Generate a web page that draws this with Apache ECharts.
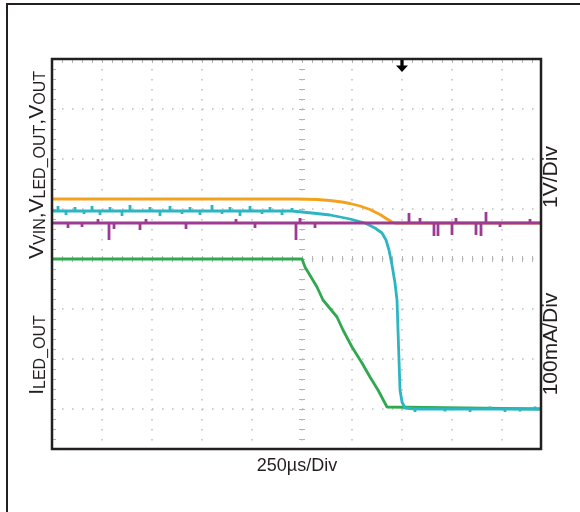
<!DOCTYPE html>
<html>
<head>
<meta charset="utf-8">
<script src="https://cdn.jsdelivr.net/npm/echarts@6/dist/echarts.min.js"></script>
<style>
  html, body { margin: 0; padding: 0; background: #fff; }
  #chart { width: 580px; height: 512px; }
</style>
</head>
<body>
<div id="chart"></div>
<script>
// scope traces: x and y in divisions from the screen centre, y positive up

// orange (V_VIN)
const orangeLevel = 1.2;
const orangeSpikes = [[-4.48, 1.24], [-3.88, 1.24], [-3.08, 1.24], [-2.7, 1.24], [-1.84, 1.24], [-1.6, 1.24], [-0.8, 1.24]];
const orangeEdge = [[-0.1, 1.2], [0.3, 1.19], [0.56, 1.17], [0.8, 1.14], [0.96, 1.11], [1.16, 1.06], [1.36, 0.99],
  [1.56, 0.89], [1.7, 0.8], [1.8, 0.74], [1.86, 0.72], [4.78, 0.72]];

// cyan (V_LED_OUT)
const cyanLevel = 0.96;
const cyanSpikes = [[-4.88, 1.06], [-4.72, 0.88], [-4.54, 1.04], [-4.36, 0.9], [-4.2, 1.06], [-4.04, 0.88], [-3.84, 1.04],
  [-3.6, 0.86], [-3.44, 1.08], [-3.24, 0.92], [-3.04, 1.04], [-2.84, 0.86], [-2.64, 1.06], [-2.4, 0.9], [-2.24, 1.04],
  [-2.04, 0.88], [-1.8, 1.08], [-1.6, 0.9], [-1.44, 1.04], [-1.24, 0.86], [-1.04, 1.06], [-0.8, 0.9], [-0.64, 1.04],
  [-0.4, 0.88], [-0.2, 1.02]];
const cyanEdge = [[-0.1, 0.95], [0.2, 0.92], [0.56, 0.88], [0.96, 0.8], [1.26, 0.72], [1.46, 0.62], [1.6, 0.52],
  [1.68, 0.38], [1.74, 0.18], [1.8, -0.12], [1.86, -0.48], [1.9, -0.82], [1.92, -1.42], [1.94, -2.02], [1.96, -2.62],
  [2.0, -2.86], [2.06, -2.98]];
const cyanLow = -3.0;
const cyanLowSpikes = [[2.26, -3.06], [2.56, -2.96], [2.86, -3.05], [3.36, -3.06], [3.76, -2.95], [4.06, -3.06],
  [4.36, -3.05], [4.66, -2.95]];

// magenta (V_OUT)
const magentaLevel = 0.72;
const magentaSpikes = [[-4.68, 0.62], [-4.4, 0.64], [-4.08, 0.8], [-3.86, 0.38], [-3.76, 0.6], [-3.24, 0.58], [-3.12, 0.8],
  [-2.32, 0.6], [-1.32, 0.8], [-0.94, 0.62], [-0.12, 0.38], [-0.04, 0.82], [0.26, 0.62], [2.14, 0.92], [2.36, 0.82],
  [2.64, 0.46], [2.72, 0.46], [3.0, 0.48], [3.08, 0.82], [3.48, 0.48], [3.58, 0.46], [3.68, 0.94], [3.96, 0.64],
  [4.56, 0.8]];

// green (I_LED_OUT)
const greenLevel = 0.0;
const greenSpikes = [[-4.84, 0.04], [-4.44, -0.04], [-4.04, 0.04], [-3.44, -0.04], [-2.84, 0.04], [-2.24, -0.04],
  [-1.64, 0.04], [-1.04, -0.04], [-0.44, 0.04]];
const greenEdge = [[0.0, 0.0], [0.06, -0.16], [0.3, -0.56], [0.42, -0.82], [0.7, -1.16], [0.82, -1.42], [1.0, -1.76],
  [1.2, -2.08], [1.36, -2.36], [1.52, -2.62], [1.7, -2.96], [1.74, -3.0], [4.78, -3.0]];

const triggerPos = 2;

// flat segment with single-sample glitches
function flat(level, spikes, x0) {
  const pts = [[x0, level]];
  spikes.forEach(function (s) {
    pts.push([s[0], level], [s[0], s[1]], [s[0], level]);
  });
  return pts;
}

// y axis is inverted so gridlines sit where the scope draws them
function toAxis(pts) {
  return pts.map(function (p) { return [p[0], -p[1]]; });
}

const orangeData = toAxis(flat(orangeLevel, orangeSpikes, -5).concat(orangeEdge));
const cyanData = toAxis(flat(cyanLevel, cyanSpikes, -5).concat(cyanEdge, flat(cyanLow, cyanLowSpikes, 2.1), [[4.78, cyanLow]]));
const magentaData = toAxis(flat(magentaLevel, magentaSpikes, -5).concat([[4.78, magentaLevel]]));
const greenData = toAxis(flat(greenLevel, greenSpikes, -5).concat(greenEdge));

const ink = '#231f20';
const tickColor = '#b4b4b4';
const dotted = { color: '#bdbdbd', width: 1.5, type: [1.5, 8.5] };
const font = 'Liberation Sans, Arial, sans-serif';

function xAx(position, onZero, len, split) {
  return {
    type: 'value', min: -5, max: 4.78, interval: 1, position: position,
    axisLine: { show: false, onZero: onZero, onZeroAxisIndex: 0 },
    axisLabel: { show: false },
    axisTick: { show: true, inside: true, length: len, lineStyle: { color: tickColor } },
    minorTick: { show: true, splitNumber: 5, length: len, lineStyle: { color: tickColor } },
    splitLine: { show: split, lineStyle: dotted }
  };
}
function yAx(position, onZero, len, split) {
  return {
    type: 'value', min: -4, max: 3.8, interval: 1, inverse: true, position: position,
    axisLine: { show: false, onZero: onZero, onZeroAxisIndex: 0 },
    axisLabel: { show: false },
    axisTick: { show: true, inside: true, length: len, lineStyle: { color: tickColor } },
    minorTick: { show: true, splitNumber: 5, length: len, lineStyle: { color: tickColor } },
    splitLine: { show: split, lineStyle: dotted }
  };
}

function trace(name, data, color, z) {
  return {
    name: name, type: 'line', data: data, showSymbol: false, symbol: 'none', z: z,
    lineStyle: { color: color, width: 2.8 }, itemStyle: { color: color }
  };
}

const richSub = {
  m: { fontSize: 21, fontFamily: font, lineHeight: 24, verticalAlign: 'middle', fill: ink },
  s: { fontSize: 16, fontFamily: font, lineHeight: 14, verticalAlign: 'bottom', fill: ink }
};

const chart = echarts.init(document.getElementById('chart'), null, { renderer: 'canvas' });
chart.setOption({
  animation: false,
  backgroundColor: '#fff',
  grid: { left: 52, top: 59, width: 489, height: 390 },
  xAxis: [xAx('top', false, 4, true), xAx('bottom', true, 3, false), xAx('top', true, 3, false)],
  yAxis: [yAx('left', false, 4, true), yAx('left', true, 3, false), yAx('right', true, 3, false)],
  series: [
    Object.assign(trace('I_LED_OUT', greenData, '#2fa84f', 2), {
      markPoint: {
        silent: true,
        symbol: 'path://M4,0 L7,0 L7,7 L11,7 L5.5,13 L0,7 L4,7 Z',
        symbolSize: [12, 14], symbolOffset: [0, 6],
        itemStyle: { color: '#000' }, label: { show: false },
        data: [{ coord: [triggerPos, -4] }]
      }
    }),
    trace('V_VIN', orangeData, '#f4a21e', 3),
    trace('V_LED_OUT', cyanData, '#2cb6c2', 4),
    trace('V_OUT', magentaData, '#9c3b93', 5)
  ],
  graphic: [
    { type: 'rect', z: 100, shape: { x: 7, y: 4, width: 620, height: 620 }, style: { fill: 'none', stroke: ink, lineWidth: 2 } },
    { type: 'rect', z: 100, shape: { x: 52, y: 59, width: 489, height: 390 }, style: { fill: 'none', stroke: ink, lineWidth: 2.5 } },
    { type: 'text', z: 100, x: 297, y: 466, style: { text: '250µs/Div', font: '18px ' + font, fill: ink, align: 'center', verticalAlign: 'middle' } },
    { type: 'text', z: 100, x: 551, y: 177, rotation: Math.PI / 2, style: { text: '1V/Div', font: '21px ' + font, fill: ink, align: 'center', verticalAlign: 'middle' } },
    { type: 'text', z: 100, x: 551, y: 344, rotation: Math.PI / 2, style: { text: '100mA/Div', font: '21px ' + font, fill: ink, align: 'center', verticalAlign: 'middle' } },
    {
      type: 'text', z: 100, x: 37, y: 165, rotation: Math.PI / 2,
      style: { text: '{m|V}{s|VIN}{m|,V}{s|LED_OUT}{m|,V}{s|OUT}', fill: ink, align: 'center', verticalAlign: 'middle', rich: richSub }
    },
    {
      type: 'text', z: 100, x: 37, y: 355, rotation: Math.PI / 2,
      style: { text: '{m|I}{s|LED_OUT}', fill: ink, align: 'center', verticalAlign: 'middle', rich: richSub }
    }
  ]
});
</script>
</body>
</html>
